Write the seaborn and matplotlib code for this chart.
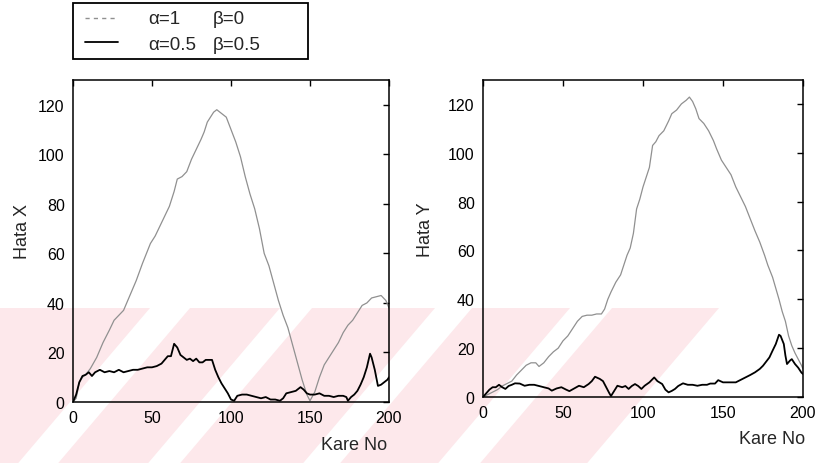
import matplotlib
matplotlib.use("Agg")
import matplotlib.pyplot as plt
import seaborn as sns
from matplotlib.patches import Polygon, Rectangle
from matplotlib.lines import Line2D

# ---- Hata X (left panel) ----
x_frames_a = [0, 2, 4, 6, 8, 11, 15, 19, 23, 26, 29, 32, 36, 40, 44, 49, 52, 55, 58, 61,
              64, 66, 69, 72, 75, 78, 81, 83, 85, 87, 89, 91, 94, 97, 100, 103, 106, 109,
              112, 115, 118, 121, 124, 127, 130, 133, 136, 139, 142, 145, 148, 150, 153,
              156, 159, 162, 165, 168, 171, 174, 177, 180, 183, 186, 189, 192, 195, 198, 200]
x_err_a = [0, 1.5, 8, 10, 11, 13.5, 18, 24, 29, 33, 35, 37, 43, 49, 56, 64, 67, 71, 75, 79,
           85, 90, 91, 93, 98, 102, 106, 109, 113, 115, 117, 118, 116.5, 115, 110, 105, 99, 91,
           84, 78, 70, 60, 55, 48, 41, 35, 30, 23, 16, 9, 3, 0.5, 4,
           10, 15, 18, 21, 24, 28, 31, 33, 36, 39, 40, 42, 42.5, 43, 41, 38]

x_frames_b = [0, 2, 4, 6, 8, 10, 12, 14, 17, 20, 23, 26, 29, 32, 35, 38, 41, 44, 47, 50,
              53, 56, 58, 60, 62, 64, 66, 68, 70, 72, 74, 76, 78, 80, 82, 84, 86, 88, 90,
              92, 94, 96, 98, 100, 102, 104, 107, 110, 113, 116, 119, 122, 125, 128, 131,
              133, 135, 138, 141, 144, 146, 148, 150, 153, 156, 159, 162, 165, 168, 171,
              173, 174, 176, 178, 180, 182, 184, 186, 188, 189, 191, 193, 195, 197, 199, 200]
x_err_b = [0, 3, 8, 10.5, 11, 12, 10.5, 12, 13, 12, 12.5, 12, 13, 12, 12.5, 13, 13, 13.5, 14, 14,
           14.5, 15.5, 17, 18.5, 18.5, 23.5, 22, 19, 18, 17, 17.5, 16.5, 17.5, 16, 16, 17, 17, 17, 13,
           10, 7.5, 5.5, 3.5, 1, 0.5, 2.5, 3, 3, 2.5, 2, 1.5, 2, 1, 1, 0.5,
           1.5, 3.5, 4, 4.5, 6, 5, 3.5, 3, 3, 3.5, 2.5, 2.5, 2, 2.5, 2.5,
           2, 0.5, 2, 3, 4.5, 7, 10, 14, 19.5, 18, 13, 6.5, 7, 8, 9, 10]

# ---- Hata Y (right panel) ----
y_frames_a = [0, 3, 6, 9, 12, 15, 18, 21, 24, 27, 30, 33, 35, 38, 41, 44, 47, 50, 53, 56,
              59, 62, 65, 68, 71, 74, 76, 78, 80, 83, 86, 88, 90, 92, 94, 96, 98, 100, 102,
              104, 106, 108, 110, 113, 116, 118, 121, 124, 127, 129, 131, 133, 135, 138, 141,
              144, 146, 149, 152, 155, 158, 161, 164, 167, 170, 173, 176, 178, 181, 183, 185,
              187, 189, 191, 193, 195, 197, 199, 200]
y_err_a = [0, 1, 2, 3, 4.5, 5.5, 6.5, 9, 11, 13, 14, 14, 12.5, 14, 16.5, 18.5, 20, 23, 25, 28,
           31, 33, 33.5, 33.5, 34, 34, 36, 40, 43, 47, 50, 54, 58, 61, 67, 77, 81, 86, 90,
           94, 103, 104.5, 107, 109, 113, 116, 117.5, 120, 121.5, 122.8, 121, 118, 114, 112, 109,
           105, 101.6, 97, 94, 91, 86, 82, 78, 73, 68, 63.4, 58, 54, 49, 44.5, 40,
           35, 31, 25, 21, 18, 15.5, 13, 11.5]

y_frames_b = [0, 2, 4, 6, 8, 10, 12, 14, 16, 18, 20, 23, 26, 29, 32, 35, 38, 41, 43, 46,
              49, 52, 54, 57, 60, 63, 66, 68, 70, 73, 75, 77, 79, 80, 82, 84, 87, 89, 91,
              93, 95, 97, 99, 101, 104, 107, 109, 112, 114, 116, 118, 120, 122, 125, 128,
              131, 134, 137, 140, 142, 145, 147, 150, 154, 158, 161, 164, 167, 170, 173,
              175, 177, 179, 181, 183, 185, 186, 188, 189, 190, 192, 193, 195, 197, 199, 200]
y_err_b = [0, 1.5, 3, 4, 4, 5, 4, 3.3, 4.5, 5, 5.6, 5.5, 4.6, 5, 5, 4.5, 4, 3.5, 2.6, 3.5,
           4, 3, 2.4, 3.5, 4.6, 4, 5.3, 6.5, 8.3, 7.4, 6.5, 4, 1.5, 0.4, 2.5, 4.6, 4, 4.5, 3.3,
           4.5, 5.3, 4.5, 3.3, 4.6, 6, 8, 6.5, 5.3, 3, 1.9, 2.5, 3.3, 4.5, 5.6, 5,
           5, 4.6, 5, 5, 5.5, 5.5, 6.9, 6, 6, 6, 7, 8, 9, 10.1, 11.5,
           12.8, 14.5, 16.2, 19, 21.7, 25.5, 25, 21.7, 17, 13.5, 15, 15.5, 13.5, 12, 10, 9.4]

legend_labels = [("α=1", "β=0"), ("α=0.5", "β=0.5")]
x_ticks = [0, 50, 100, 150, 200]
y_ticks = [0, 20, 40, 60, 80, 100, 120]

sns.set_theme(style="white")
plt.rcParams["font.family"] = ["Liberation Sans", "DejaVu Sans"]

W, H = 819, 464
fig = plt.figure(figsize=(W / 100, H / 100), dpi=100)
fig.patch.set_facecolor("white")


def fx(px):
    return px / W


def fy(py):
    return 1 - py / H


# pale diagonal stripes in the lower part of the page, behind everything
PINK = "#fde8eb"
TOP, BOT = 309, 464
SHIFT = (BOT - TOP) * 0.85
for a0, a1 in [(-300, 150), (190, 280), (312, 435), (472, 570), (612, 719)]:
    pts = [(a0, TOP), (a1, TOP), (a1 - SHIFT, BOT), (a0 - SHIFT, BOT)]
    fig.patches.append(Polygon([(fx(x), fy(y)) for x, y in pts], closed=True,
                               transform=fig.transFigure, facecolor=PINK,
                               edgecolor="none", zorder=-5))

GRAY = "#909090"


def panel(rect, fa, va, fb, vb, ylabel, ylab_xy, xlab_xy):
    ax = fig.add_axes(rect)
    ax.set_facecolor("none")
    sns.lineplot(x=fa, y=va, ax=ax, color=GRAY, lw=0.9, estimator=None, sort=False)
    sns.lineplot(x=fb, y=vb, ax=ax, color="black", lw=1.3, estimator=None, sort=False)
    ax.set_xlim(0, 200)
    ax.set_ylim(0, 130)
    ax.set_xticks(x_ticks)
    ax.set_yticks(y_ticks)
    ax.tick_params(direction="in", length=4, width=1, top=True, right=True,
                   labelsize=11.5, pad=6, colors="black")
    for s in ax.spines.values():
        s.set_color("black")
        s.set_linewidth(1.1)
    ax.set_ylabel(ylabel, fontsize=13, va="center", ha="center")
    ax.yaxis.set_label_coords(*ylab_xy)
    ax.set_xlabel("Kare No", fontsize=13, ha="right", va="center")
    ax.xaxis.set_label_coords(*xlab_xy)
    return ax


panel([fx(73), fy(403), (389 - 73) / W, (403 - 81) / H],
      x_frames_a, x_err_a, x_frames_b, x_err_b, "Hata X",
      (-0.161, 0.534), (0.994, -0.1335))
panel([fx(483), fy(398), (803 - 483) / W, (398 - 80.5) / H],
      y_frames_a, y_err_a, y_frames_b, y_err_b, "Hata Y",
      (-0.181, 0.529), (1.006, -0.132))

# legend box
fig.patches.append(Rectangle((fx(73), fy(60)), (308 - 73) / W, (60 - 4) / H,
                             transform=fig.transFigure, facecolor="white",
                             edgecolor="black", lw=1.3, zorder=5))
fig.add_artist(Line2D([fx(85), fx(118)], [fy(19), fy(19)], color=GRAY, lw=1.0,
                      linestyle=(0, (3, 3)), zorder=6))
fig.add_artist(Line2D([fx(85), fx(118)], [fy(43), fy(43)], color="black", lw=1.3,
                      zorder=6))
for (alpha_txt, beta_txt), yc in zip(legend_labels, [20, 45.5]):
    fig.text(fx(148), fy(yc), alpha_txt, fontsize=13.5, va="center", ha="left", zorder=7)
    fig.text(fx(213), fy(yc), beta_txt, fontsize=13.5, va="center", ha="left", zorder=7)

fig.savefig("out.png", dpi=100, facecolor="white")
